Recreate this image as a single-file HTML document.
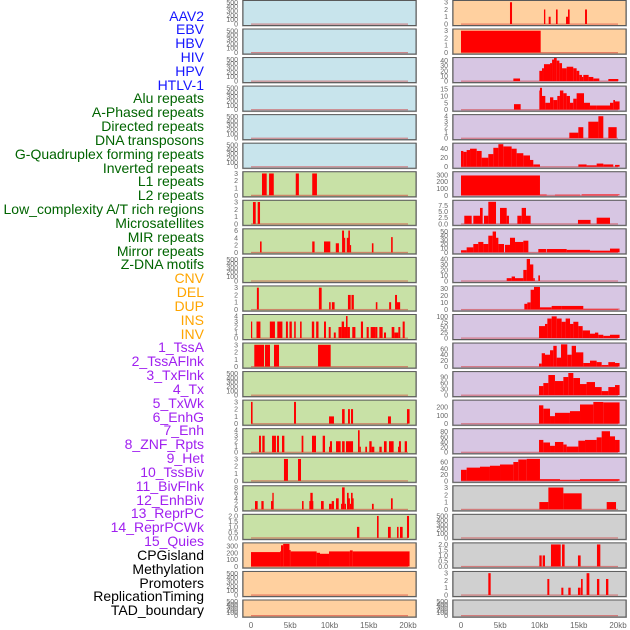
<!DOCTYPE html>
<html><head><meta charset="utf-8"><style>
body{margin:0;background:#fff;width:630px;height:630px;overflow:hidden;font-family:"Liberation Sans",sans-serif}
#labels{position:absolute;left:0;top:0;width:204px}
.lb{position:absolute;right:0;font-size:14px;line-height:14px;white-space:nowrap;text-align:right}
svg{position:absolute;left:0;top:0}
</style></head><body>
<div id="labels"></div>
<svg id="chart" width="630" height="630"></svg>
<script>
const labelNames=["AAV2","EBV","HBV","HIV","HPV","HTLV-1","Alu repeats","A-Phased repeats","Directed repeats","DNA transposons","G-Quadruplex forming repeats","Inverted repeats","L1 repeats","L2 repeats","Low_complexity A/T rich regions","Microsatellites","MIR repeats","Mirror repeats","Z-DNA motifs","CNV","DEL","DUP","INS","INV","1_TssA","2_TssAFlnk","3_TxFlnk","4_Tx","5_TxWk","6_EnhG","7_Enh","8_ZNF_Rpts","9_Het","10_TssBiv","11_BivFlnk","12_EnhBiv","13_ReprPC","14_ReprPCWk","15_Quies","CPGisland","Methylation","Promoters","ReplicationTiming","TAD_boundary"];
const labelGroups=[6,13,5,15,5];
const groupColors=["#1515ff","#006400","#ffa500","#a020f0","#000000"];
const xTicks=[0,5,10,15,20];
const xTickLabels=["0","5kb","10kb","15kb","20kb"];
const E=["0","100","200","300","400","500"];
const leftBg=["b","b","b","b","b","b","g","g","g","g","g","g","g","g","g","g","g","g","g","p","p","p"];
const rightBg=["p","p","l","l","l","l","l","l","l","l","l","l","l","l","l","l","l","r","r","r","r","r"];
const leftTicks=[E,E,E,E,E,E,["0","1","2","3"],["0","1","2","3"],["0","2","4","6"],E,["0","1","2","3"],["0","1","2","3","4"],["0","1","2","3"],E,["0","1","2","3"],["0","1","2","3","4"],["0","1","2","3"],["0","2","4","6","8"],["0.0","0.5","1.0","1.5","2.0"],["0","100","200","300"],E,E];
const leftYMax=[520,520,520,520,520,520,3.1,3.1,6.2,520,3.1,4.1,3.1,520,3.1,4.1,3.1,8.2,2.05,330,520,520];
const rightTicks=[["0","1","2","3"],["0","1","2","3"],["0","10","20","30","40"],["0","5","10","15"],["0","1","2","3","4"],["0","20","40"],["0","100","200","300"],["0.0","2.5","5.0","7.5"],["0","10","20","30","40","50"],["0","10","20","30","40"],["0","10","20","30"],["0","25","50","75","100"],["0","20","40","60"],["0","30","60","90"],["0","100","200"],["0","20","40","60","80"],["0","20","40","60"],["0","1","2","3"],E,["0.0","0.5","1.0","1.5","2.0"],["0","1","2","3"],E];
const rightYMax=[3.1,3.1,44,16.5,4.1,50,330,9.2,54,41,32,104,76,112,270,88,72,3.1,520,2.05,3.1,520];
const leftData=[[],[],[],[],[],[],
[[1.4,2.0,3],[2.3,2.9,3],[5.7,6.1,3],[7.8,8.4,3]],
[[0.25,0.6,3],[0.85,1.15,3]],
[[1.15,1.35,3],[7.8,8.1,3],[9.3,10.1,3],[10.8,11.2,2.5],[11.6,11.85,6],[11.85,12,4],[12.2,12.45,4],[12.4,12.6,6],[12.6,12.75,2],[15.4,15.6,2.5],[17.85,18.05,4.2]],
[],
[[0.75,1.0,3],[8.65,9.0,3],[9.95,10.15,1],[10.3,10.65,1],[12.35,12.7,2],[12.8,13.1,2],[15.9,16.1,1],[17.6,17.85,1],[18.35,18.6,2],[18.6,19,1]],
[[0,0.15,3],[0.7,1.2,3],[2.4,3.05,3],[3.35,4.0,3],[4.45,4.7,3],[4.9,5.2,3],[5.5,5.7,3],[6.25,6.45,3],[7.75,8.05,3],[8.3,8.6,3],[9.3,9.55,3],[9.9,10.15,2],[10.55,10.8,1],[11.15,11.55,2],[11.55,11.85,3],[11.85,12.1,2],[12.1,12.3,4],[12.3,12.6,2],[12.9,13.3,2],[14.0,14.27,3],[14.73,15.0,2],[15.24,15.84,2],[15.84,16.1,2],[16.35,16.77,2],[16.94,17.2,1],[17.92,18.26,2],[18.26,18.77,1],[18.77,19.02,2],[19.32,19.58,3]],
[[0.42,1.66,3],[1.78,2.42,3],[2.93,3.57,3],[8.54,10.15,3]],
[],
[[0,0.2,3],[5.48,5.73,3],[9.94,10.57,1],[11.6,11.93,2],[12.36,12.6,2],[12.74,13.0,2],[17.45,17.83,1],[19.87,20.2,2]],
[[1.02,1.27,3],[1.44,1.74,3],[2.68,3.18,3],[3.31,3.57,3],[3.95,4.25,3],[6.45,6.67,3],[7.77,8.28,3],[9.13,9.43,3],[9.94,10.19,1],[10.06,10.32,2],[10.83,11.42,2],[11.6,11.93,2],[12.1,13.0,2],[13.63,13.84,4],[13.84,13.97,1],[14.56,14.78,1],[15.07,15.37,2],[15.37,15.71,1],[16.35,16.65,1],[16.94,17.28,2],[17.58,18.17,2],[18.73,18.98,1],[18.85,19.1,2],[19.58,19.87,2]],
[[4.2,4.71,3],[5.99,6.37,3]],
[[0.51,0.85,3],[1.32,1.61,3],[2.55,2.85,3],[2.72,2.89,6],[6.5,6.7,3],[7.43,7.94,3],[7.56,7.86,6],[8.92,9.26,3],[9.94,10.28,2],[10.28,10.57,3],[10.83,11.17,4],[11.47,11.63,2],[11.6,11.93,8],[11.93,12.1,2],[12.23,12.44,6],[12.3,12.6,4],[12.6,12.74,2],[12.74,12.95,6],[12.87,13.08,4],[15.41,15.63,2],[17.83,18.05,4]],
[[13.5,13.8,1],[16.05,16.26,2],[17.45,17.8,1],[18.6,18.8,1],[18.98,19.32,1],[19.87,20.13,2]],
[[0,3.7,210],[3.7,3.9,220],[3.82,4.1,310],[4.1,4.9,330],[4.9,5.05,240],[5.05,8.36,220],[8.36,8.79,200],[8.79,9.94,185],[9.94,12.6,220],[12.6,12.95,235],[12.95,20.2,220]],
[],[]];
const rightData=[
[[6.24,6.5,3],[10.57,10.74,2],[11.17,11.42,1],[12.1,12.31,2],[13.38,13.63,1],[13.63,13.84,2],[15.8,16.05,2]],
[[0,10.15,3]],
[[6.67,7.52,5],[9.98,10.32,20],[10.32,10.57,25],[10.57,11.34,33],[11.34,11.6,35],[11.6,11.85,42],[11.85,12.19,46],[12.19,12.53,40],[12.53,12.87,35],[12.87,13.46,25],[13.46,14.3,28],[14.3,14.73,25],[14.73,15.07,20],[15.07,15.41,12],[15.41,15.58,8],[15.58,16.26,12],[16.26,16.86,8],[16.86,17.62,5],[18.77,20.04,4]],
[[6.75,7.6,4],[9.98,10.06,14],[10.06,10.32,16],[10.32,10.74,10],[10.74,11.34,5],[11.34,11.76,9],[11.76,12.27,7],[12.27,12.6,10],[12.6,13.04,14],[13.04,13.46,12],[13.46,13.88,10],[13.88,14.3,5],[14.3,14.73,8],[14.73,15.67,12],[15.67,16.43,5],[16.43,17.28,3],[17.28,18.98,3],[18.98,19.4,5],[19.4,19.62,7],[19.62,20.2,6]],
[[13.8,14.95,1],[14.95,15.58,2],[16.22,17.5,3],[17.5,18.13,4],[18.77,19.83,2]],
[[0,0.3,35],[0.3,0.72,33],[0.72,1.15,37],[1.15,2.0,40],[2.0,2.63,35],[2.63,3.48,20],[3.48,4.12,28],[4.12,4.76,42],[4.76,5.39,50],[5.39,6.45,45],[6.45,7.09,40],[7.09,7.94,30],[7.94,8.79,25],[8.79,9.21,15],[9.21,10.06,5],[14.95,16.0,5],[16.0,17.28,3],[17.28,18.13,7],[18.13,19.4,5],[19.62,20.2,4]],
[[0,10.06,290],[10.06,10.91,10],[11.97,15.16,8],[15.37,20.2,12]],
[[0.42,1.36,3.3],[1.57,2.42,3.3],[2.42,2.76,6.5],[2.93,3.48,3.3],[3.48,4.46,9],[4.97,5.82,6.5],[5.82,6.11,3.3],[7.18,7.73,3.3],[7.73,8.28,6.5],[8.28,8.87,3.3],[14.9,16.5,1.6],[17.28,18.98,2.5]],
[[0,0.72,5],[0.72,1.57,12],[1.57,2.2,20],[2.2,2.85,25],[2.85,3.48,20],[3.48,4.03,40],[4.03,4.46,50],[4.46,4.76,35],[4.76,5.48,20],[5.6,6.24,18],[6.24,6.88,35],[6.88,7.94,25],[7.94,8.58,28],[9.85,10.83,8],[10.91,13.46,8],[13.46,16.43,6],[16.43,18.98,4],[18.98,20.2,9]],
[[5.82,6.45,5],[6.45,6.88,8],[6.88,7.94,5],[7.94,8.37,20],[8.37,8.79,40],[8.79,9.21,30],[9.21,9.4,5],[9.85,10.06,10]],
[[8.07,8.45,8],[8.45,8.87,10],[8.87,9.3,28],[9.3,10.06,32],[10.06,11.55,3],[11.55,12.82,5],[12.82,15.58,5],[15.58,20.2,1]],
[[9.94,10.7,55],[10.7,11.0,65],[11.0,11.55,90],[11.55,12.19,100],[12.19,12.82,90],[12.82,13.33,75],[13.33,13.89,90],[13.89,14.31,65],[14.31,14.95,75],[14.95,15.5,55],[15.5,16.43,35],[16.43,17.07,20],[17.07,17.49,25],[17.49,18.13,15],[18.13,18.98,10],[18.98,20.2,15]],
[[9.94,10.28,10],[10.28,10.7,45],[10.7,11.34,40],[11.34,11.76,55],[11.76,12.19,70],[12.19,12.74,30],[12.74,13.54,75],[13.54,14.1,40],[14.1,14.65,70],[14.65,15.58,48],[15.58,16.43,12],[16.43,17.28,20],[17.28,17.92,15],[17.92,18.77,5],[18.77,19.62,15],[19.62,20.2,12]],
[[9.94,10.49,45],[10.49,11.13,60],[11.13,11.97,100],[11.97,13.04,70],[13.04,13.67,90],[13.67,14.31,110],[14.31,15.16,85],[15.16,16.0,55],[16.0,17.07,65],[17.07,17.92,40],[17.92,18.77,20],[18.77,19.62,40],[19.62,20.2,50]],
[[9.94,10.49,220],[10.49,11.34,180],[11.34,11.97,90],[11.97,13.88,130],[13.88,15.16,150],[15.16,16.86,230],[16.86,18.13,260],[18.13,20.2,255]],
[[9.94,10.49,48],[10.49,11.34,38],[11.34,11.97,25],[11.97,13.04,40],[13.04,13.46,30],[13.46,14.95,22],[14.95,15.8,45],[15.8,17.28,48],[17.28,17.92,58],[17.92,18.98,82],[18.98,19.62,62],[19.62,20.2,48]],
[[0,0.72,35],[0.72,2.42,42],[2.42,3.69,45],[3.69,4.97,48],[4.97,6.67,52],[6.67,7.3,60],[7.3,8.37,68],[8.37,10.06,70],[10.06,12.61,5],[12.61,15.16,3],[15.16,20.2,5]],
[[9.98,11.13,1],[11.13,13.04,3],[13.04,15.37,2.2],[18.56,19.75,1]],
[],
[[9.98,10.28,1],[10.4,10.7,1],[11.46,12.7,2],[12.87,13.2,2],[14.9,15.24,1],[17.32,17.75,2]],
[[3.48,3.78,3],[11.0,11.25,2.2],[12.78,13.04,1],[13.67,13.97,1],[14.9,15.24,1],[15.29,15.5,2.2],[16.0,16.35,3],[17.32,17.62,2.2],[18.47,18.77,2.2]],
[]];

const NS="http://www.w3.org/2000/svg";
const svg=document.getElementById('chart');
const bgColors={b:"#c8e4ec",g:"#c8e1a6",p:"#ffd09f",l:"#d7c6e3",r:"#d0d0d0"};
function mk(t,a,p){const e=document.createElementNS(NS,t);for(const k in a)e.setAttribute(k,a[k]);(p||svg).appendChild(e);return e;}
function rowTop(r){return r===0?0.5:29+(r-1)*28.55;}
function rowH(r){return r===21?17:25;}
const KB=7.85;
function drawPanel(r,side){
  const x0=side==='L'?243:453, w=173, zero=side==='L'?251:461;
  const top=rowTop(r), h=rowH(r);
  const bg=(side==='L'?leftBg:rightBg)[r];
  const ticks=(side==='L'?leftTicks:rightTicks)[r];
  const ymax=(side==='L'?leftYMax:rightYMax)[r];
  const data=(side==='L'?leftData:rightData)[r];
  const base=top+h-1.5, scale=(h-2.5)/ymax;
  const yS=v=>base-v*scale, xS=kb=>zero+kb*KB;
  const g=mk('g',{});
  
  
  mk('rect',{x:x0-1,y:top-0.5,width:w+2,height:h+1.5,fill:'#a8a8a8'},g);
  const bgr=mk('rect',{x:x0,y:top,width:w,height:h,fill:bgColors[bg],stroke:'#5a5a5a','stroke-width':1},g);
  
  
  const cid='c'+side+r;
  const cp=mk('clipPath',{id:cid},g);mk('rect',{x:x0+0.5,y:top+0.5,width:w-1,height:h-1},cp);
  const bars=mk('g',{'clip-path':'url(#'+cid+')'},g);
  mk('rect',{x:xS(0),y:base-0.5,width:20*KB,height:1.2,fill:'rgba(210,40,40,0.5)'},bars);
  data.forEach(d=>{
    const bx=xS(d[0]), bw=Math.max(1.2,(d[1]-d[0])*KB), by=yS(d[2]);
    const b=mk('rect',{x:bx,y:by,width:bw,height:base-by,fill:'#ff0000'},bars);
    
    
  });
  ticks.forEach(t=>{
    const v=parseFloat(t);
    const tx=mk('text',{x:x0-5,y:yS(v)+2.5,'font-size':7,fill:'#666','text-anchor':'end','font-family':'Liberation Sans, sans-serif'},g);
    tx.textContent=t;
    
    
  });
}
for(let r=0;r<22;r++){drawPanel(r,'L');drawPanel(r,'R');}
['L','R'].forEach(s=>{
  const zero=s==='L'?251:461;
  xTicks.forEach((k,i)=>{
    const t=mk('text',{x:zero+k*KB,y:628,'font-size':8,fill:'#666','text-anchor':'middle','font-family':'Liberation Sans, sans-serif'});
    t.textContent=xTickLabels[i];
    
    
  });
});
const lab=document.getElementById('labels');
let idx=0;
labelGroups.forEach((n,gi)=>{for(let j=0;j<n;j++){
  const d=document.createElement('div');d.className='lb';
  d.style.top=(8.5+idx*13.83)+'px';d.style.color=groupColors[gi];
  d.textContent=labelNames[idx];
  
  
  lab.appendChild(d);idx++;}});
</script>
</body></html>
